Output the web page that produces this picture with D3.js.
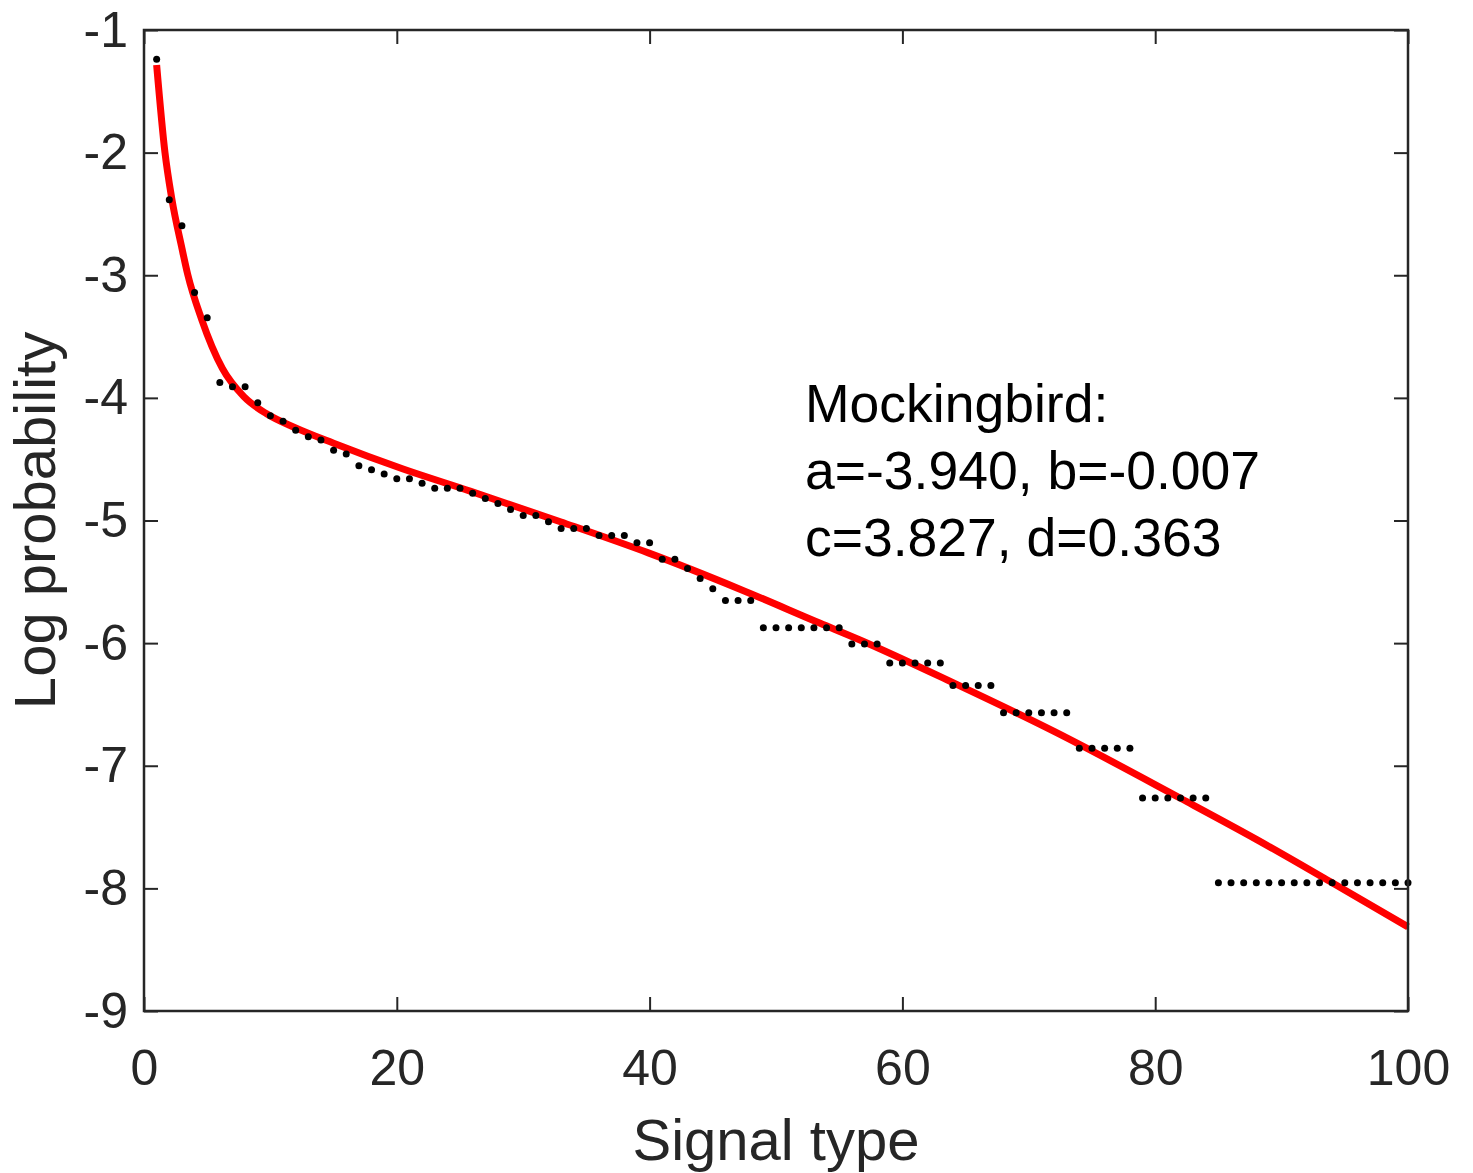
<!DOCTYPE html>
<html>
<head>
<meta charset="utf-8">
<script src="https://cdn.jsdelivr.net/npm/d3@7"></script>
<style>
  body { margin: 0; background: #ffffff; }
  .chart text { font-family: "Liberation Sans", Arial, Helvetica, sans-serif; }
</style>
</head>
<body>
<div class="chart"></div>
<script>
// Log probability of each signal type, mockingbird, with fitted curve

// Data
// observed log probability for signal types 1..100
var logProb = [
  -1.239, -2.384, -2.596, -3.140, -3.347, -3.874, -3.909, -3.909, -4.040, -4.146,
  -4.190, -4.265, -4.317, -4.344, -4.428, -4.458, -4.553, -4.586, -4.621, -4.660,
  -4.660, -4.697, -4.736, -4.736, -4.736, -4.777, -4.820, -4.861, -4.910, -4.959,
  -4.959, -5.010, -5.065, -5.065, -5.065, -5.122, -5.122, -5.122, -5.182, -5.182,
  -5.317, -5.317, -5.391, -5.472, -5.557, -5.652, -5.652, -5.652, -5.875, -5.875,
  -5.875, -5.875, -5.875, -5.875, -5.875, -6.008, -6.008, -6.008, -6.163, -6.163,
  -6.163, -6.163, -6.163, -6.345, -6.345, -6.345, -6.345, -6.568, -6.568, -6.568,
  -6.568, -6.568, -6.568, -6.857, -6.857, -6.857, -6.857, -6.857, -7.262, -7.262,
  -7.262, -7.262, -7.262, -7.262, -7.955, -7.955, -7.955, -7.955, -7.955, -7.955,
  -7.955, -7.955, -7.955, -7.955, -7.955, -7.955, -7.955, -7.955, -7.955, -7.955
];

// red fitted curve
var fitX = [1, 1.66, 2.19, 3, 3.45, 4.56, 6.2, 7.9, 9.7, 12, 15, 20.5, 25.8, 33,
  39.9, 47.15, 53.5, 56.6, 64, 72, 82, 88, 93.8, 100];
var fitY = [-1.285, -2.00, -2.37, -2.78, -2.99, -3.36, -3.76, -3.99, -4.13, -4.245,
  -4.37, -4.58, -4.76, -5.012, -5.264, -5.56, -5.838, -5.972, -6.322, -6.72,
  -7.265, -7.60, -7.942, -8.314];

var xTicks = [0, 20, 40, 60, 80, 100];
var yTicks = [-1, -2, -3, -4, -5, -6, -7, -8, -9];
var fitLabel = ["Mockingbird:", "a=-3.940, b=-0.007", "c=3.827, d=0.363"];

// Chart dimensions
var svgWidth = 1473;
var svgHeight = 1173;
var margin = { top: 30, right: 65, bottom: 162, left: 144 };
var width = svgWidth - margin.left - margin.right;
var height = svgHeight - margin.top - margin.bottom;
var axisColor = "#262626";

var svg = d3.select(".chart")
  .append("svg")
  .attr("width", svgWidth)
  .attr("height", svgHeight)
  .style("background", "#ffffff");

var chartGroup = svg.append("g")
  .attr("transform", `translate(${margin.left}, ${margin.top})`);

// Scales
var xLinearScale = d3.scaleLinear().domain([0, 100]).range([0, width]);
var yLinearScale = d3.scaleLinear().domain([-9, -1]).range([height, 0]);

// Axes, ticks point inward like matlab
var bottomAxis = d3.axisBottom(xLinearScale).tickValues(xTicks)
  .tickSizeInner(-14).tickSizeOuter(0).tickPadding(38)
  .tickFormat(d => String(d));
var leftAxis = d3.axisLeft(yLinearScale).tickValues(yTicks)
  .tickSizeInner(-14).tickSizeOuter(0).tickPadding(16)
  .tickFormat(d => String(d));
var topAxis = d3.axisTop(xLinearScale).tickValues(xTicks)
  .tickSizeInner(-14).tickSizeOuter(0).tickFormat("");
var rightAxis = d3.axisRight(yLinearScale).tickValues(yTicks)
  .tickSizeInner(-14).tickSizeOuter(0).tickFormat("");

function styleAxis(g) {
  g.select(".domain").remove();
  g.selectAll(".tick line").attr("stroke", axisColor).attr("stroke-width", 2);
  g.selectAll(".tick text")
    .attr("fill", axisColor)
    .style("font-size", "50px");
}

chartGroup.append("g").attr("transform", `translate(0, ${height})`).call(bottomAxis).call(styleAxis);
chartGroup.append("g").call(leftAxis).call(styleAxis);
chartGroup.append("g").call(topAxis).call(styleAxis);
chartGroup.append("g").attr("transform", `translate(${width}, 0)`).call(rightAxis).call(styleAxis);

// Fitted curve
var fitData = fitX.map((x, i) => ({ x: x, y: fitY[i] }));
var fitLine = d3.line()
  .x(d => xLinearScale(d.x))
  .y(d => yLinearScale(d.y))
  .curve(d3.curveMonotoneX);

chartGroup.append("path")
  .datum(fitData)
  .attr("d", fitLine)
  .attr("fill", "none")
  .attr("stroke", "#ff0000")
  .attr("stroke-width", 7);

// Observed points
chartGroup.append("g")
  .selectAll("circle")
  .data(logProb)
  .enter()
  .append("circle")
  .attr("cx", (d, i) => xLinearScale(i + 1))
  .attr("cy", d => yLinearScale(d))
  .attr("r", 3.5)
  .attr("fill", "#000000");

// Box around the axes
chartGroup.append("rect")
  .attr("width", width)
  .attr("height", height)
  .attr("fill", "none")
  .attr("stroke", axisColor)
  .attr("stroke-width", 2.5);

// Fit parameters text
chartGroup.append("g")
  .selectAll("text")
  .data(fitLabel)
  .enter()
  .append("text")
  .attr("x", 805 - margin.left)
  .attr("y", (d, i) => 422 - margin.top + i * 67)
  .attr("fill", "#000000")
  .style("font-size", "53.5px")
  .text(d => d);

// Axis titles
chartGroup.append("text")
  .attr("x", width / 2)
  .attr("y", 1160 - margin.top)
  .attr("text-anchor", "middle")
  .attr("fill", axisColor)
  .style("font-size", "58px")
  .text("Signal type");

chartGroup.append("text")
  .attr("transform", "rotate(-90)")
  .attr("x", -height / 2)
  .attr("y", 55 - margin.left)
  .attr("text-anchor", "middle")
  .attr("fill", axisColor)
  .style("font-size", "58px")
  .text("Log probability");
</script>
</body>
</html>
